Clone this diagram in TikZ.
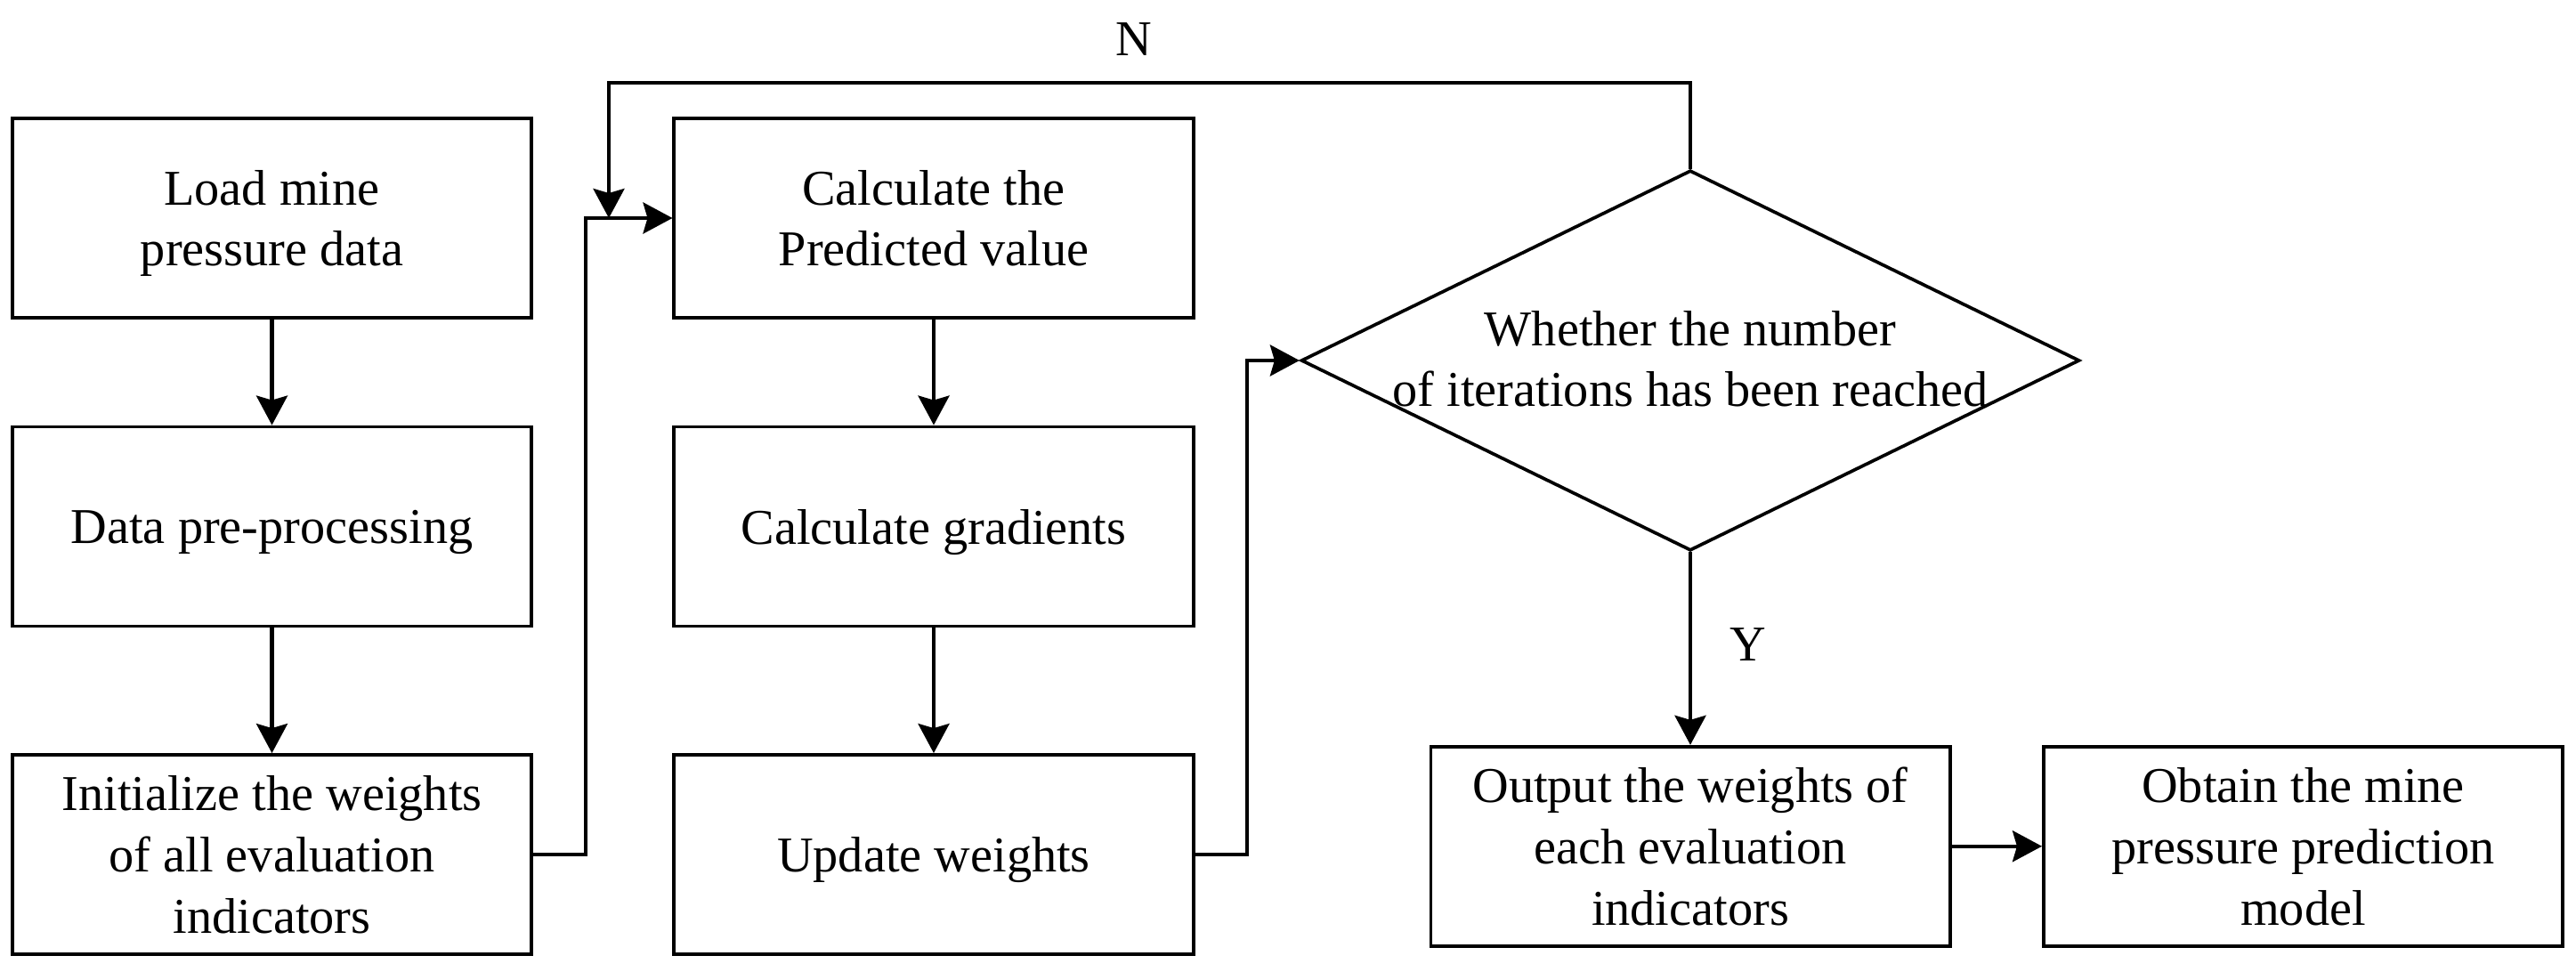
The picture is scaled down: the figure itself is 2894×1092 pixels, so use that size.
\documentclass[tikz,border=0pt]{standalone}
\usepackage{fontspec}
\setmainfont{Liberation Serif}
\usetikzlibrary{arrows.meta,shapes.geometric}
\begin{document}
\begin{tikzpicture}[x=0.01cm,y=-0.01cm,
  box/.style={draw,line width=1.05pt,minimum width=5.83cm,minimum height=2.24cm,inner sep=0pt,align=center,font=\fontsize{16}{19.6}\selectfont,text depth=0pt},
  lbl/.style={font=\fontsize{16}{19.6}\selectfont,inner sep=0pt},
  conn/.style={line width=1.15pt,-{Stealth[length=3.3mm,width=3.5mm,inset=0.5mm]}}]
\useasboundingbox (0,0) rectangle (2894,1092);
\node[box] (A) at (305.5,245) {Load mine\\pressure data};
\node[box] (B) at (305.5,591.5) {Data pre-processing};
\node[box] (C) at (305.5,960) {Initialize the weights\\of all evaluation\\indicators};
\node[box] (D) at (1049,245) {Calculate the\\Predicted value};
\node[box] (E) at (1049,591.5) {Calculate gradients};
\node[box] (F) at (1049,960) {Update weights};
\node[diamond,draw,line width=1.05pt,minimum width=8.74cm,minimum height=4.27cm,inner sep=0pt] (G) at (1899,405) {};
\node[lbl,align=center,text depth=0pt] (Gt) at (1899,403) {Whether the number\\of iterations has been reached};
\node[box] (H) at (1899,950.75) {Output the weights of\\each evaluation\\indicators};
\node[box] (I) at (2587.5,950.75) {Obtain the mine\\pressure prediction\\model};
\node[lbl,anchor=base] (N) at (1274,63) {N};
\node[lbl,anchor=base] (Y) at (1964,743) {Y};
\coordinate (cx) at (658,0);
\coordinate (top) at (0,92.6);
\coordinate (lx) at (684,0);
\coordinate (fx) at (1401,0);
\draw[conn] (A) -- (B);
\draw[conn] (B) -- (C);
\draw[conn] (C.east) -- (C.east -| cx) |- (D.west);
\draw[conn] (D) -- (E);
\draw[conn] (E) -- (F);
\draw[conn] (G.north) -- (G.north |- top) -| (lx |- D.west);
\draw[conn] (F.east) -- (F.east -| fx) |- (G.west);
\draw[conn] (G.south) -- (H.north);
\draw[conn] (H) -- (I);
\end{tikzpicture}
\end{document}
